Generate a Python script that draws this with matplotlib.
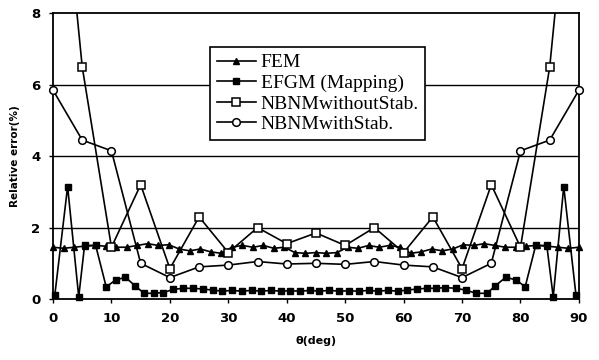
import matplotlib
matplotlib.use('Agg')
import matplotlib.pyplot as plt

# relative error vs. angle for the four methods
fem_deg = [0, 1.8, 3.6, 5.4, 7.2, 9.0, 10.8, 12.6, 14.4, 16.2, 18.0, 19.8, 21.6,
           23.4, 25.2, 27.0, 28.8, 30.6, 32.4, 34.2, 36.0, 37.8, 39.6, 41.4, 43.2,
           45.0, 46.8, 48.6, 50.4, 52.2, 54.0, 55.8, 57.6, 59.4, 61.2, 63.0, 64.8,
           66.6, 68.4, 70.2, 72.0, 73.8, 75.6, 77.4, 79.2, 81.0, 82.8, 84.6, 86.4,
           88.2, 90.0]
fem_err = [1.45, 1.42, 1.45, 1.48, 1.50, 1.48, 1.45, 1.45, 1.50, 1.55, 1.50, 1.52,
           1.40, 1.35, 1.40, 1.32, 1.28, 1.45, 1.50, 1.45, 1.50, 1.42, 1.45, 1.30,
           1.28, 1.30, 1.28, 1.30, 1.45, 1.42, 1.50, 1.45, 1.50, 1.45, 1.28, 1.32,
           1.40, 1.35, 1.40, 1.52, 1.50, 1.55, 1.50, 1.45, 1.45, 1.48, 1.50, 1.48,
           1.45, 1.42, 1.45]

efgm_deg = [0.3, 2.5, 4.4, 5.4, 7.3, 9.1, 10.7, 12.4, 14.1, 15.6, 17.2, 18.9,
            20.6, 22.3, 24.0, 25.6, 27.3, 29.0, 30.6, 32.3, 34.0, 35.6, 37.3,
            39.0, 40.6, 42.3, 44.0, 45.6, 47.3, 49.0, 50.6, 52.3, 54.0, 55.6,
            57.3, 59.0, 60.6, 62.3, 64.0, 65.6, 67.1, 69.0, 70.6, 72.4, 74.3,
            75.6, 77.5, 79.3, 80.8, 82.6, 84.5, 85.6, 87.4, 89.5]
efgm_err = [0.10, 3.15, 0.06, 1.50, 1.50, 0.34, 0.53, 0.61, 0.36, 0.16, 0.16,
            0.18, 0.27, 0.30, 0.30, 0.28, 0.25, 0.22, 0.24, 0.22, 0.24, 0.22,
            0.24, 0.22, 0.23, 0.22, 0.24, 0.22, 0.24, 0.22, 0.23, 0.22, 0.24,
            0.22, 0.24, 0.22, 0.25, 0.28, 0.30, 0.30, 0.32, 0.30, 0.25, 0.16,
            0.16, 0.36, 0.61, 0.53, 0.34, 1.50, 1.50, 0.06, 3.15, 0.10]

nbnm_deg = [0, 5, 10, 15, 20, 25, 30, 35, 40, 45, 50, 55, 60, 65, 70, 75, 80, 85, 90]
nbnm_nostab = [14.8, 6.50, 1.45, 3.20, 0.85, 2.30, 1.30, 2.00, 1.55, 1.85, 1.50,
               2.00, 1.30, 2.30, 0.85, 3.20, 1.45, 6.50, 14.8]
nbnm_stab = [5.85, 4.45, 4.15, 1.00, 0.60, 0.90, 0.95, 1.05, 0.98, 1.00, 0.97,
             1.05, 0.95, 0.90, 0.60, 1.00, 4.15, 4.45, 5.85]

fig = plt.figure(figsize=(5.99, 3.6), dpi=100)
ax = fig.add_axes([0.0885, 0.1694, 0.878, 0.7936])

for y in [2, 4, 6]:
    ax.axhline(y, color='k', lw=1.0, zorder=1)

ax.plot(fem_deg, fem_err, color='k', lw=1.2, marker='^', ms=5,
        mfc='k', mec='k', clip_on=False, zorder=3, label='FEM')
ax.plot(efgm_deg, efgm_err, color='k', lw=1.2, marker='s', ms=4.8,
        mfc='k', mec='k', clip_on=False, zorder=3, label='EFGM (Mapping)')
ax.plot(nbnm_deg, nbnm_nostab, color='k', lw=1.2, marker='s', ms=5.5,
        mfc='white', mec='k', mew=1.1, zorder=4, label='NBNMwithoutStab.')
ax.plot(nbnm_deg, nbnm_stab, color='k', lw=1.2, marker='o', ms=5.5,
        mfc='white', mec='k', mew=1.1, clip_on=False, zorder=4,
        label='NBNMwithStab.')

ax.set_xlim(0, 90)
ax.set_ylim(0, 8)
ax.set_xticks(range(0, 91, 10))
ax.set_yticks([0, 2, 4, 6, 8])
ax.tick_params(direction='out', length=3, width=1, labelsize=9.5, pad=6)
for lbl in ax.get_xticklabels() + ax.get_yticklabels():
    lbl.set_fontweight('bold')
for s in ax.spines.values():
    s.set_linewidth(1.3)

ax.set_xlabel('θ(deg)', fontsize=8, fontweight='bold', labelpad=8)
ax.set_ylabel('Relative error(%)', fontsize=7.5, fontweight='bold', labelpad=8)

leg = ax.legend(loc='upper left', bbox_to_anchor=(0.2985, 0.882),
                prop={'family': 'Liberation Serif', 'size': 14},
                frameon=True, fancybox=False, edgecolor='k', framealpha=1,
                handlelength=2.0, handletextpad=0.25, borderpad=0.35,
                labelspacing=0.15, borderaxespad=0)
leg.get_frame().set_linewidth(1.2)
leg.set_zorder(10)

fig.savefig('out.png', dpi=100)
